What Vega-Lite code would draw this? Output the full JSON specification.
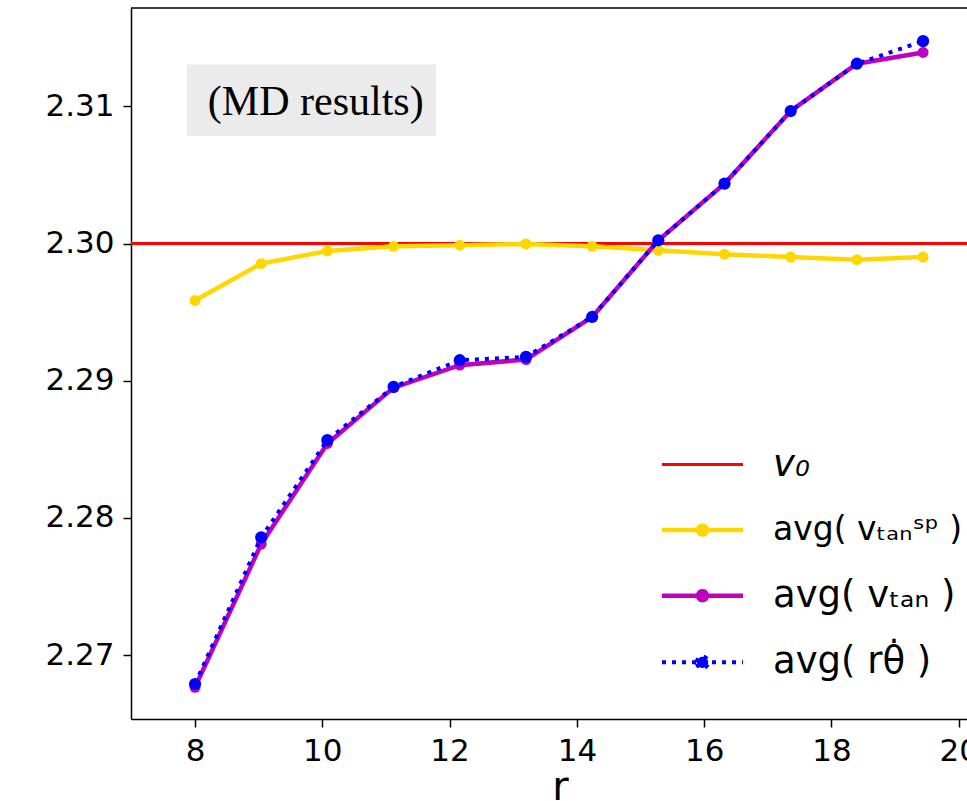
{
  "$schema": "https://vega.github.io/schema/vega-lite/v6.json",
  "width": 836,
  "height": 711,
  "autosize": {"type": "none"},
  "padding": {"left": 131, "top": 8, "right": 0, "bottom": 82},
  "background": "white",
  "config": {
    "view": {"stroke": null},
    "font": "DejaVu Sans",
    "axis": {
      "labelFont": "DejaVu Sans",
      "labelFontSize": 31,
      "labelColor": "black",
      "tickColor": "black",
      "tickSize": 8,
      "tickWidth": 1.5,
      "domainColor": "black",
      "domainWidth": 1.5,
      "gridColor": "#e6e6e6",
      "gridWidth": 1.2,
      "titleFont": "DejaVu Sans",
      "titleFontWeight": "normal",
      "titleColor": "black"
    },
    "legend": {
      "orient": "none",
      "legendX": 553,
      "legendY": 438,
      "padding": 0,
      "labelFont": "DejaVu Sans",
      "labelFontSize": 37,
      "labelColor": "black",
      "labelOffset": 52,
      "labelLimit": 400,
      "rowPadding": 28.6,
      "symbolSize": 6561,
      "symbolStrokeWidth": 4.5
    }
  },
  "data": {
    "values": [
      {"r": 8.0, "v": 2.29585, "series": "sp"},
      {"r": 9.04, "v": 2.29854, "series": "sp"},
      {"r": 10.08, "v": 2.29946, "series": "sp"},
      {"r": 11.12, "v": 2.2998, "series": "sp"},
      {"r": 12.16, "v": 2.29988, "series": "sp"},
      {"r": 13.2, "v": 2.29997, "series": "sp"},
      {"r": 14.24, "v": 2.2998, "series": "sp"},
      {"r": 15.28, "v": 2.29951, "series": "sp"},
      {"r": 16.32, "v": 2.29922, "series": "sp"},
      {"r": 17.36, "v": 2.29902, "series": "sp"},
      {"r": 18.4, "v": 2.29883, "series": "sp"},
      {"r": 19.44, "v": 2.29902, "series": "sp"},
      {"r": 8.0, "v": 2.26766, "series": "tan"},
      {"r": 9.04, "v": 2.2781, "series": "tan"},
      {"r": 10.08, "v": 2.28543, "series": "tan"},
      {"r": 11.12, "v": 2.2895, "series": "tan"},
      {"r": 12.16, "v": 2.29114, "series": "tan"},
      {"r": 13.2, "v": 2.29155, "series": "tan"},
      {"r": 14.24, "v": 2.29465, "series": "tan"},
      {"r": 15.28, "v": 2.30024, "series": "tan"},
      {"r": 16.32, "v": 2.30437, "series": "tan"},
      {"r": 17.36, "v": 2.30966, "series": "tan"},
      {"r": 18.4, "v": 2.31311, "series": "tan"},
      {"r": 19.44, "v": 2.31393, "series": "tan"},
      {"r": 8.0, "v": 2.2679, "series": "rtheta"},
      {"r": 9.04, "v": 2.27859, "series": "rtheta"},
      {"r": 10.08, "v": 2.28567, "series": "rtheta"},
      {"r": 11.12, "v": 2.28956, "series": "rtheta"},
      {"r": 12.16, "v": 2.2915, "series": "rtheta"},
      {"r": 13.2, "v": 2.29174, "series": "rtheta"},
      {"r": 14.24, "v": 2.29465, "series": "rtheta"},
      {"r": 15.28, "v": 2.30024, "series": "rtheta"},
      {"r": 16.32, "v": 2.30437, "series": "rtheta"},
      {"r": 17.36, "v": 2.30966, "series": "rtheta"},
      {"r": 18.4, "v": 2.31311, "series": "rtheta"},
      {"r": 19.44, "v": 2.31476, "series": "rtheta"}
    ]
  },
  "layer": [
    {
      "data": {"values": [{}]},
      "mark": {"type": "rect", "color": "#ebebeb"},
      "encoding": {
        "x": {"datum": 7.874, "type": "quantitative", "title": "r", "axis": {"title": "r", "values": [8, 10, 12, 14, 16, 18, 20], "labelPadding": 9, "titleFontSize": 40, "titleX": 429, "titleY": 80, "titleBaseline": "alphabetic", "titleAlign": "center"}},
        "x2": {"datum": 11.786},
        "y": {"datum": 2.31306, "type": "quantitative", "title": null, "axis": {"title": null, "values": [2.27, 2.28, 2.29, 2.3, 2.31], "format": ".2f", "labelPadding": 9}},
        "y2": {"datum": 2.30784}
      }
    },
    {
      "data": {"values": [{}]},
      "mark": {"type": "text", "text": "(MD results)", "font": "Liberation Serif", "fontSize": 42, "baseline": "alphabetic", "align": "center", "color": "black"},
      "encoding": {
        "x": {"datum": 9.897, "type": "quantitative", "title": "r", "axis": {"title": "r", "values": [8, 10, 12, 14, 16, 18, 20], "labelPadding": 9, "titleFontSize": 40, "titleX": 429, "titleY": 80, "titleBaseline": "alphabetic", "titleAlign": "center"}},
        "y": {"datum": 2.30935, "type": "quantitative", "title": null, "axis": {"title": null, "values": [2.27, 2.28, 2.29, 2.3, 2.31], "format": ".2f", "labelPadding": 9}}
      }
    },
    {
      "data": {"values": [{}]},
      "mark": {"type": "rule", "strokeWidth": 3},
      "encoding": {
        "y": {"datum": 2.3, "type": "quantitative", "title": null, "axis": {"title": null, "values": [2.27, 2.28, 2.29, 2.3, 2.31], "format": ".2f", "labelPadding": 9}},
        "color": {
          "datum": "v0", "type": "nominal",
          "scale": {"domain": ["v0", "sp", "tan", "rtheta"], "range": ["#ff0000", "#ffd700", "#bf00bf", "#0000ff"]},
          "legend": {
            "title": null,
            "symbolType": "M-1,0H1",
            "labelExpr": "datum.value === 'v0' ? 'v₀' : datum.value === 'sp' ? 'avg( vₜₐₙˢᵖ )' : datum.value === 'tan' ? 'avg( vₜₐₙ )' : 'avg( rθ̇ )'",
            "encode": {
              "symbols": {"update": {
                "shape": {"signal": "datum.value === 'v0' ? 'M-1,0H1' : datum.value === 'rtheta' ? 'M-1,0H1M-0.14,0A0.14,0.14,0,1,1,0.14,0A0.14,0.14,0,1,1,-0.14,0Z' : 'M-1,0H1M-0.11,0A0.11,0.11,0,1,1,0.11,0A0.11,0.11,0,1,1,-0.11,0Z'"},
                "fill": {"signal": "datum.value === 'v0' ? 'transparent' : datum.value === 'sp' ? '#ffd700' : datum.value === 'tan' ? '#bf00bf' : '#0000ff'"},
                "strokeWidth": {"signal": "datum.value === 'v0' ? 3 : datum.value === 'rtheta' ? 4 : 4.5"},
                "strokeDash": {"signal": "datum.value === 'rtheta' ? [4, 6] : [1, 0]"},
                "opacity": {"value": 1}
              }},
              "labels": {"update": {
                "fontStyle": {"signal": "datum.value === 'v0' ? 'italic' : 'normal'"},
                "fontSize": {"signal": "datum.value === 'sp' ? 33 : 37"}
              }}
            }
          }
        }
      }
    },
    {
      "transform": [{"filter": "datum.series === 'sp'"}],
      "mark": {"type": "line", "strokeWidth": 4.5, "point": {"filled": true, "size": 120, "opacity": 1}},
      "encoding": {
        "x": {
          "field": "r", "type": "quantitative", "title": "r",
          "scale": {"domain": [6.994, 20.13], "nice": false, "zero": false},
          "axis": {"title": "r", "values": [8, 10, 12, 14, 16, 18, 20], "labelPadding": 9, "titleFontSize": 40, "titleX": 429, "titleY": 80, "titleBaseline": "alphabetic", "titleAlign": "center"}
        },
        "y": {
          "field": "v", "type": "quantitative", "title": null,
          "scale": {"domain": [2.26535, 2.31717], "nice": false, "zero": false},
          "axis": {"title": null, "values": [2.27, 2.28, 2.29, 2.3, 2.31], "format": ".2f", "labelPadding": 9}
        },
        "color": {
          "field": "series", "type": "nominal",
          "scale": {"domain": ["v0", "sp", "tan", "rtheta"], "range": ["#ff0000", "#ffd700", "#bf00bf", "#0000ff"]},
          "legend": {
            "title": null,
            "symbolType": "M-1,0H1",
            "labelExpr": "datum.value === 'v0' ? 'v₀' : datum.value === 'sp' ? 'avg( vₜₐₙˢᵖ )' : datum.value === 'tan' ? 'avg( vₜₐₙ )' : 'avg( rθ̇ )'",
            "encode": {
              "symbols": {"update": {
                "shape": {"signal": "datum.value === 'v0' ? 'M-1,0H1' : datum.value === 'rtheta' ? 'M-1,0H1M-0.14,0A0.14,0.14,0,1,1,0.14,0A0.14,0.14,0,1,1,-0.14,0Z' : 'M-1,0H1M-0.11,0A0.11,0.11,0,1,1,0.11,0A0.11,0.11,0,1,1,-0.11,0Z'"},
                "fill": {"signal": "datum.value === 'v0' ? 'transparent' : datum.value === 'sp' ? '#ffd700' : datum.value === 'tan' ? '#bf00bf' : '#0000ff'"},
                "strokeWidth": {"signal": "datum.value === 'v0' ? 3 : datum.value === 'rtheta' ? 4 : 4.5"},
                "strokeDash": {"signal": "datum.value === 'rtheta' ? [4, 6] : [1, 0]"},
                "opacity": {"value": 1}
              }},
              "labels": {"update": {
                "fontStyle": {"signal": "datum.value === 'v0' ? 'italic' : 'normal'"},
                "fontSize": {"signal": "datum.value === 'sp' ? 33 : 37"}
              }}
            }
          }
        }
      }
    },
    {
      "transform": [{"filter": "datum.series === 'tan'"}],
      "mark": {"type": "line", "strokeWidth": 4.5, "point": {"filled": true, "size": 120, "opacity": 1}},
      "encoding": {
        "x": {"field": "r", "type": "quantitative", "title": "r", "axis": {"title": "r", "values": [8, 10, 12, 14, 16, 18, 20], "labelPadding": 9, "titleFontSize": 40, "titleX": 429, "titleY": 80, "titleBaseline": "alphabetic", "titleAlign": "center"}},
        "y": {"field": "v", "type": "quantitative", "title": null, "axis": {"title": null, "values": [2.27, 2.28, 2.29, 2.3, 2.31], "format": ".2f", "labelPadding": 9}},
        "color": {
          "field": "series", "type": "nominal",
          "scale": {"domain": ["v0", "sp", "tan", "rtheta"], "range": ["#ff0000", "#ffd700", "#bf00bf", "#0000ff"]},
          "legend": {
            "title": null,
            "symbolType": "M-1,0H1",
            "labelExpr": "datum.value === 'v0' ? 'v₀' : datum.value === 'sp' ? 'avg( vₜₐₙˢᵖ )' : datum.value === 'tan' ? 'avg( vₜₐₙ )' : 'avg( rθ̇ )'",
            "encode": {
              "symbols": {"update": {
                "shape": {"signal": "datum.value === 'v0' ? 'M-1,0H1' : datum.value === 'rtheta' ? 'M-1,0H1M-0.14,0A0.14,0.14,0,1,1,0.14,0A0.14,0.14,0,1,1,-0.14,0Z' : 'M-1,0H1M-0.11,0A0.11,0.11,0,1,1,0.11,0A0.11,0.11,0,1,1,-0.11,0Z'"},
                "fill": {"signal": "datum.value === 'v0' ? 'transparent' : datum.value === 'sp' ? '#ffd700' : datum.value === 'tan' ? '#bf00bf' : '#0000ff'"},
                "strokeWidth": {"signal": "datum.value === 'v0' ? 3 : datum.value === 'rtheta' ? 4 : 4.5"},
                "strokeDash": {"signal": "datum.value === 'rtheta' ? [4, 6] : [1, 0]"},
                "opacity": {"value": 1}
              }},
              "labels": {"update": {
                "fontStyle": {"signal": "datum.value === 'v0' ? 'italic' : 'normal'"},
                "fontSize": {"signal": "datum.value === 'sp' ? 33 : 37"}
              }}
            }
          }
        }
      }
    },
    {
      "transform": [{"filter": "datum.series === 'rtheta'"}],
      "mark": {"type": "line", "strokeWidth": 4, "strokeDash": [4, 6], "point": {"filled": true, "size": 150, "opacity": 1}},
      "encoding": {
        "x": {"field": "r", "type": "quantitative", "title": "r", "axis": {"title": "r", "values": [8, 10, 12, 14, 16, 18, 20], "labelPadding": 9, "titleFontSize": 40, "titleX": 429, "titleY": 80, "titleBaseline": "alphabetic", "titleAlign": "center"}},
        "y": {"field": "v", "type": "quantitative", "title": null, "axis": {"title": null, "values": [2.27, 2.28, 2.29, 2.3, 2.31], "format": ".2f", "labelPadding": 9}},
        "color": {
          "field": "series", "type": "nominal",
          "scale": {"domain": ["v0", "sp", "tan", "rtheta"], "range": ["#ff0000", "#ffd700", "#bf00bf", "#0000ff"]},
          "legend": {
            "title": null,
            "symbolType": "M-1,0H1",
            "labelExpr": "datum.value === 'v0' ? 'v₀' : datum.value === 'sp' ? 'avg( vₜₐₙˢᵖ )' : datum.value === 'tan' ? 'avg( vₜₐₙ )' : 'avg( rθ̇ )'",
            "encode": {
              "symbols": {"update": {
                "shape": {"signal": "datum.value === 'v0' ? 'M-1,0H1' : datum.value === 'rtheta' ? 'M-1,0H1M-0.14,0A0.14,0.14,0,1,1,0.14,0A0.14,0.14,0,1,1,-0.14,0Z' : 'M-1,0H1M-0.11,0A0.11,0.11,0,1,1,0.11,0A0.11,0.11,0,1,1,-0.11,0Z'"},
                "fill": {"signal": "datum.value === 'v0' ? 'transparent' : datum.value === 'sp' ? '#ffd700' : datum.value === 'tan' ? '#bf00bf' : '#0000ff'"},
                "strokeWidth": {"signal": "datum.value === 'v0' ? 3 : datum.value === 'rtheta' ? 4 : 4.5"},
                "strokeDash": {"signal": "datum.value === 'rtheta' ? [4, 6] : [1, 0]"},
                "opacity": {"value": 1}
              }},
              "labels": {"update": {
                "fontStyle": {"signal": "datum.value === 'v0' ? 'italic' : 'normal'"},
                "fontSize": {"signal": "datum.value === 'sp' ? 33 : 37"}
              }}
            }
          }
        }
      }
    },
    {
      "data": {"values": [{}]},
      "mark": {"type": "rule", "strokeWidth": 1.5, "color": "black"},
      "encoding": {
        "y": {"datum": 2.31717, "type": "quantitative", "title": null, "axis": {"title": null, "values": [2.27, 2.28, 2.29, 2.3, 2.31], "format": ".2f", "labelPadding": 9}}
      }
    }
  ]
}
